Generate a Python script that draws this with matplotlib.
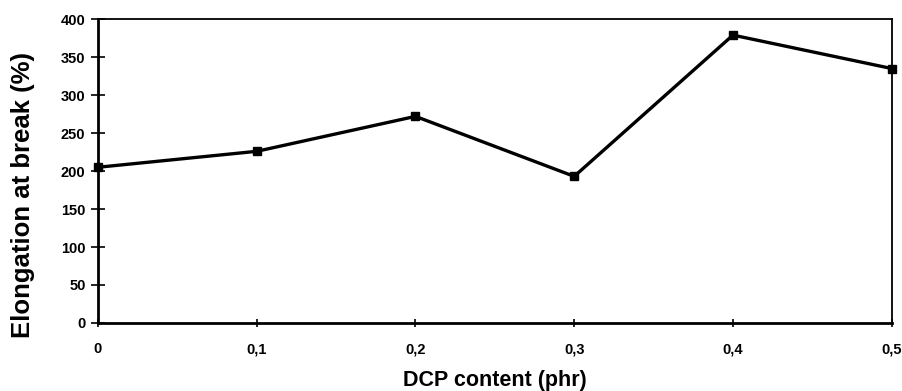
import matplotlib
matplotlib.use("Agg")
import matplotlib.pyplot as plt

dcp = [0, 0.1, 0.2, 0.3, 0.4, 0.5]
elongation = [205, 226, 272, 193, 379, 335]
xticks = [0, 0.1, 0.2, 0.3, 0.4, 0.5]
xticklabels = ["0", "0,1", "0,2", "0,3", "0,4", "0,5"]
yticks = [0, 50, 100, 150, 200, 250, 300, 350, 400]

plt.rcParams['font.family'] = ['Liberation Sans', 'DejaVu Sans']
fig = plt.figure(figsize=(9.03, 3.91), dpi=100)
ax = fig.add_axes([0.1085, 0.174, 0.879, 0.777])
ax.plot(dcp, elongation, color='black', lw=2.4, marker='s', ms=5.5, clip_on=False, zorder=5)
ax.set_xlim(0, 0.5)
ax.set_ylim(0, 400)
ax.set_xticks(xticks)
ax.set_xticklabels(xticklabels)
ax.set_yticks(yticks)
ax.tick_params(direction='inout', width=1.2, labelsize=10.5, colors='black')
ax.tick_params(axis='y', length=10, pad=4)
ax.tick_params(axis='x', length=6, pad=11)
for lab in ax.get_xticklabels() + ax.get_yticklabels():
    lab.set_fontweight('bold')
for s in ax.spines.values():
    s.set_linewidth(1.3)
ax.spines['left'].set_linewidth(2)
ax.spines['bottom'].set_linewidth(2)
ax.set_xlabel("DCP content (phr)", fontsize=15.5, fontweight='bold', labelpad=10)
ax.set_ylabel("Elongation at break (%)", fontsize=18.5, fontweight='bold')
ax.yaxis.set_label_coords(-0.079, 0.42)
fig.savefig("out.png", dpi=100)
